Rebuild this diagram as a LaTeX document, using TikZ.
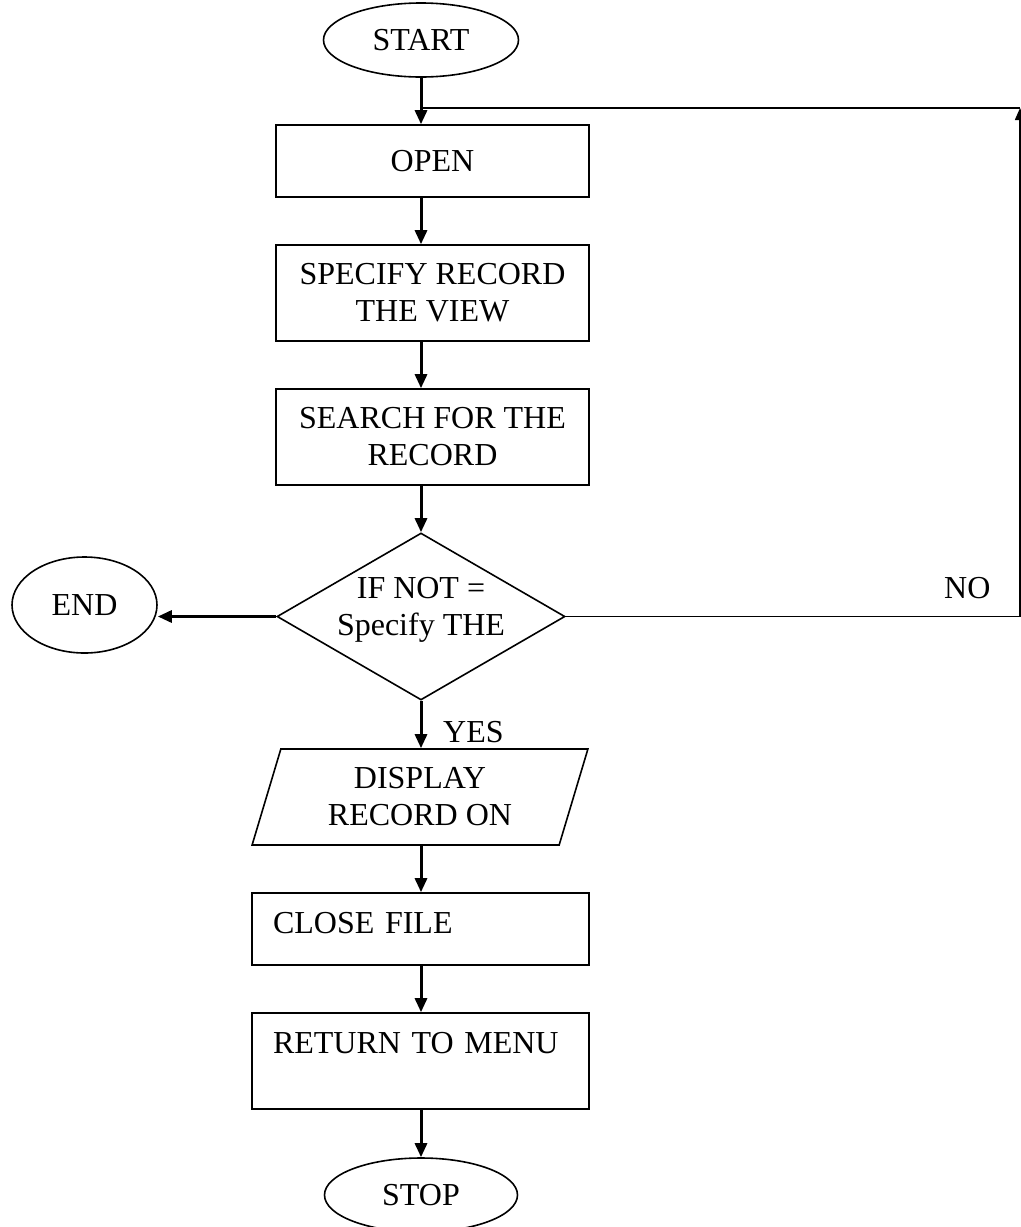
\documentclass[tikz,border=0pt]{standalone}
\usepackage{fontspec}
\setmainfont{Liberation Serif}
\usetikzlibrary{arrows.meta,shapes.geometric,calc}

\begin{document}
\begin{tikzpicture}[x=0.5pt,y=-0.5pt,font=\fontsize{16}{18.5}\selectfont]
\tikzstyle{term}=[ellipse,draw,line width=0.8pt,inner sep=0pt]
\tikzstyle{proc}=[rectangle,draw,line width=0.8pt,align=center,inner sep=0pt]
\tikzstyle{procl}=[rectangle,draw,line width=0.8pt,align=left,inner xsep=10.5pt,text width=147.5pt]
\tikzstyle{flow}=[line width=1.5pt,-{Triangle[length=7pt,width=6pt]}]
\tikzstyle{back}=[line width=0.8pt]
\useasboundingbox (0,0) rectangle (1021,1227);
\node[term,minimum width=97.5pt,minimum height=37pt] (start) at (421,40) {START};
\node[proc,minimum width=156.5pt,minimum height=36pt] (open) at (432.5,161) {OPEN};
\node[proc,minimum width=156.5pt,minimum height=48pt] (spec) at (432.5,293) {SPECIFY RECORD\\THE VIEW};
\node[proc,minimum width=156.5pt,minimum height=48pt] (search) at (432.5,437) {SEARCH FOR THE\\RECORD};
\node[diamond,draw,line width=0.8pt,inner sep=0pt,minimum width=144pt,minimum height=83.5pt,
  label={[align=center,yshift=3.5pt]center:IF NOT =\\Specify THE}] (test) at (421,616.5) {};
\node[term,minimum width=72.5pt,minimum height=48pt] (endn) at (84.5,605) {END};
\node[trapezium,draw,line width=0.8pt,align=center,inner sep=0pt,trapezium stretches=true,
  trapezium left angle=72,trapezium right angle=108,
  minimum width=168pt,minimum height=48pt] (disp) at (420,797) {DISPLAY\\RECORD ON};
\node[procl,minimum height=36pt] (close) at (420.5,929) {CLOSE FILE\\[-12pt]~};
\node[procl,minimum height=48pt] (ret) at (420.5,1061) {RETURN TO MENU\\~};
\node[term,minimum width=96.5pt,minimum height=37pt] (stop) at (421,1195) {STOP};
\coordinate (nocorner) at (1020,616.5);
\coordinate (loopc) at (1020,108);
% main column
\draw[flow] (start.south) -- (start.south |- open.north);
\draw[flow] (open.south -| start) -- (start |- spec.north);
\draw[flow] (spec.south -| start) -- (start |- search.north);
\draw[flow] (search.south -| start) -- (test.north);
\draw[flow] (test.west) -- (test.west -| endn.east);
\draw[flow] (test.south) -- node[pos=0.65,anchor=west,xshift=7pt] {YES} (test.south |- disp.north);
\draw[flow] (disp.south -| test) -- (test |- close.north);
\draw[flow] (close.south -| test) -- (test |- ret.north);
\draw[flow] (ret.south -| test) -- (stop.north);
% loop back
\draw[back,-{Triangle[length=6pt,width=5pt]}] (test.east) -- node[pos=0.884,anchor=south,yshift=5pt] {NO} (nocorner) -- (loopc);
\draw[back] (loopc) -- (loopc -| start);
\end{tikzpicture}
\end{document}
